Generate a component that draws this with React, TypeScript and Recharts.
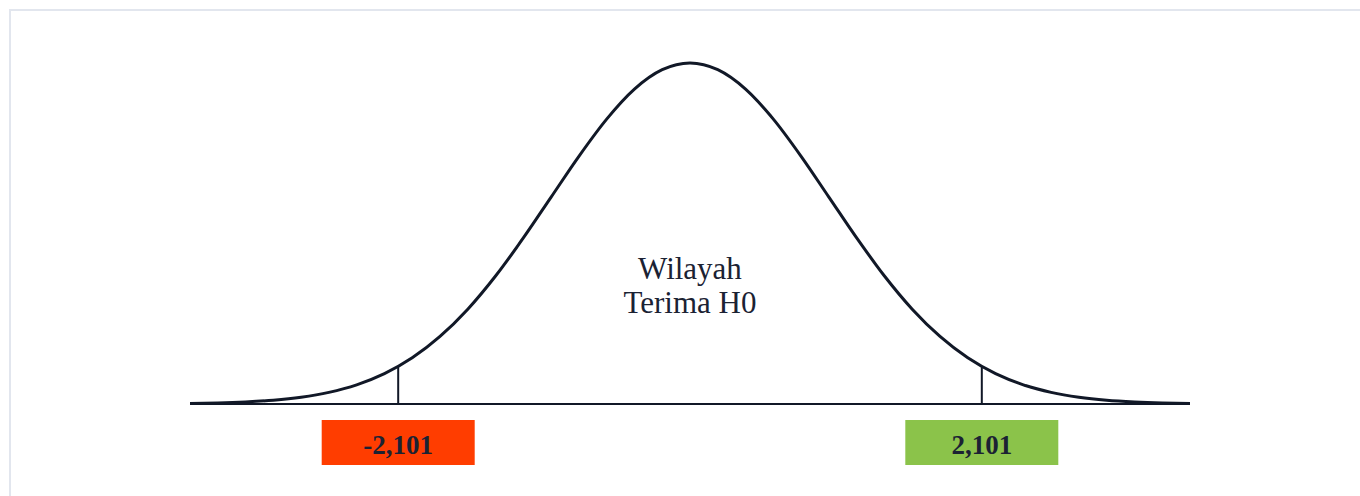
import React from 'react';
import { LineChart, Line, XAxis, YAxis, ReferenceLine, ReferenceDot } from 'recharts';

// t-values along the horizontal axis
const tValues = [
  -3.6, -3.4, -3.2, -3.0, -2.8, -2.6, -2.4, -2.2, -2.0, -1.8, -1.6, -1.4, -1.2, -1.0, -0.8, -0.6, -0.4, -0.2,
  0,
  0.2, 0.4, 0.6, 0.8, 1.0, 1.2, 1.4, 1.6, 1.8, 2.0, 2.2, 2.4, 2.6, 2.8, 3.0, 3.2, 3.4, 3.6,
];
// curve heights
const densities = [
  0.0006, 0.0012, 0.0024, 0.0044, 0.0079, 0.0136, 0.0224, 0.0355, 0.054, 0.079, 0.1109, 0.1497, 0.1942, 0.242, 0.2897, 0.3332, 0.3683, 0.391,
  0.3989,
  0.391, 0.3683, 0.3332, 0.2897, 0.242, 0.1942, 0.1497, 0.1109, 0.079, 0.054, 0.0355, 0.0224, 0.0136, 0.0079, 0.0044, 0.0024, 0.0012, 0.0006,
];
// critical values
const criticalValues = [-2.101, 2.101];
const criticalHeights = [0.0435, 0.0435];
const criticalLabels = ['-2,101', '2,101'];
const criticalColors = ['#FF3D00', '#8BC34A'];
const regionLines = ['Wilayah', 'Terima H0'];

const data = tValues.map((x, i) => ({ x, y: densities[i] }));

const INK = '#111827';
const TEXT = '#1b2233';

const LabelBox = (label: string, color: string) => (props: any) => {
  const { cx, cy } = props;
  return (
    <g>
      <rect x={cx - 76.5} y={cy + 16} width={153} height={45} fill={color} />
      <text
        x={cx}
        y={cy + 50}
        textAnchor="middle"
        fontFamily="'Liberation Serif', 'Times New Roman', serif"
        fontWeight="bold"
        fontSize={27}
        fill={TEXT}
      >
        {label}
      </text>
    </g>
  );
};

const RegionText = (props: any) => {
  const { cx, cy } = props;
  return (
    <text
      textAnchor="middle"
      fontFamily="'Liberation Serif', 'Times New Roman', serif"
      fontSize={31}
      fill={TEXT}
    >
      <tspan x={cx} y={cy - 125}>{regionLines[0]}</tspan>
      <tspan x={cx} y={cy - 91}>{regionLines[1]}</tspan>
    </text>
  );
};

export default function App() {
  return (
    <>
      <style>{`html,body{overflow:hidden;margin:0;background:#fff;}`}</style>
      <div
        style={{
          position: 'fixed',
          left: 9,
          top: 9,
          width: 1400,
          height: 520,
          borderTop: '2px solid #e2e6ee',
          borderLeft: '2px solid #e2e6ee',
          background: '#fff',
        }}
      >
        <LineChart
          width={1340}
          height={480}
          data={data}
          margin={{ top: 51, right: 161, bottom: 87, left: 179 }}
        >
          <XAxis type="number" dataKey="x" domain={[-3.6, 3.6]} hide />
          <YAxis type="number" domain={[0, 0.4]} hide />
          <ReferenceLine y={0} stroke={INK} strokeWidth={2} />
          {criticalValues.map((c, i) => (
            <ReferenceLine
              key={'seg' + i}
              segment={[
                { x: c, y: 0 },
                { x: c, y: criticalHeights[i] },
              ]}
              stroke={INK}
              strokeWidth={2}
            />
          ))}
          <Line
            type="monotone"
            dataKey="y"
            stroke={INK}
            strokeWidth={3}
            dot={false}
            activeDot={false}
            isAnimationActive={false}
          />
          {criticalValues.map((c, i) => (
            <ReferenceDot
              key={'lab' + i}
              x={c}
              y={0}
              shape={LabelBox(criticalLabels[i], criticalColors[i])}
            />
          ))}
          <ReferenceDot x={0} y={0} shape={RegionText} />
        </LineChart>
      </div>
    </>
  );
}
